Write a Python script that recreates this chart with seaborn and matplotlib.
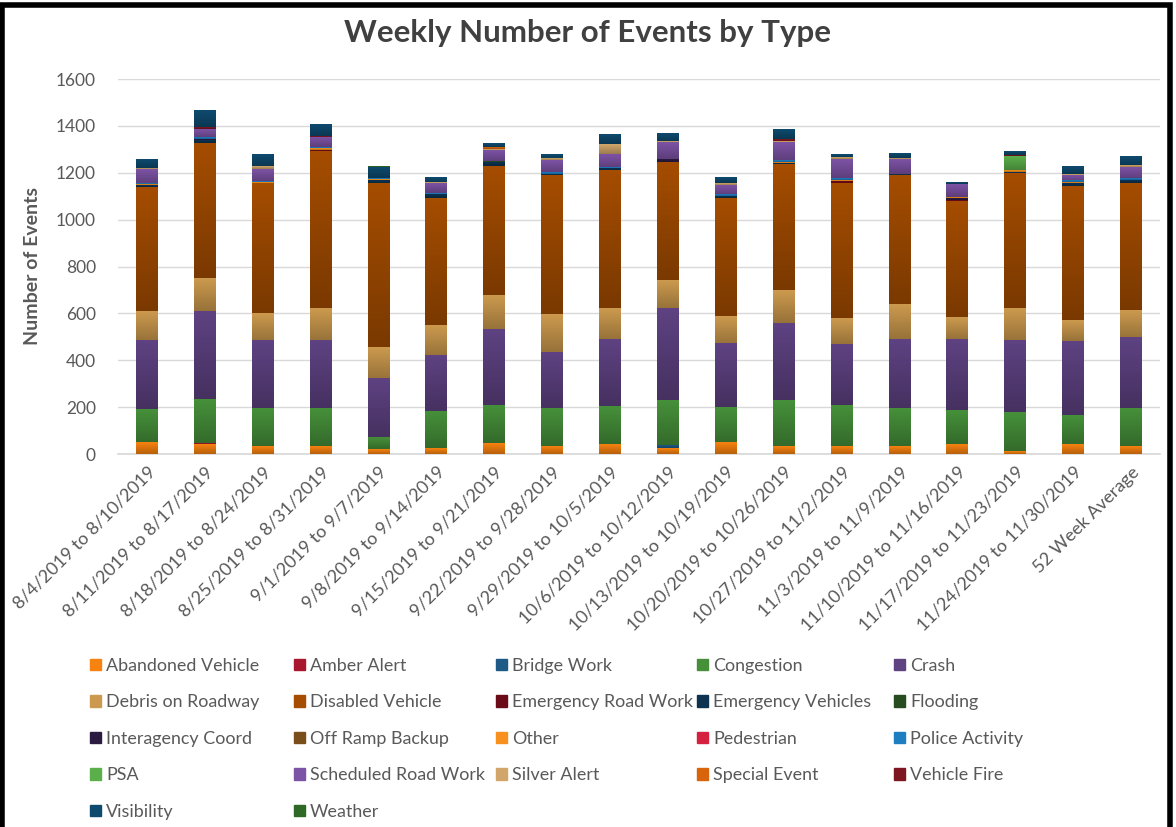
import matplotlib
matplotlib.use("Agg")
import matplotlib.pyplot as plt
import matplotlib.patches as mpatches
from matplotlib.colors import LinearSegmentedColormap, to_rgb
import numpy as np
import pandas as pd
import seaborn as sns

weeks = [
    "8/4/2019 to 8/10/2019", "8/11/2019 to 8/17/2019", "8/18/2019 to 8/24/2019",
    "8/25/2019 to 8/31/2019", "9/1/2019 to 9/7/2019", "9/8/2019 to 9/14/2019",
    "9/15/2019 to 9/21/2019", "9/22/2019 to 9/28/2019", "9/29/2019 to 10/5/2019",
    "10/6/2019 to 10/12/2019", "10/13/2019 to 10/19/2019", "10/20/2019 to 10/26/2019",
    "10/27/2019 to 11/2/2019", "11/3/2019 to 11/9/2019", "11/10/2019 to 11/16/2019",
    "11/17/2019 to 11/23/2019", "11/24/2019 to 11/30/2019", "52 Week Average",
]

# event counts per week (stack order = legend order)
abandoned_vehicle = [48, 41, 34, 34, 20, 24, 46, 34, 41, 24, 48, 31, 34, 34, 41, 10, 41, 34]
amber_alert = [0, 2, 0, 0, 0, 0, 0, 0, 0, 0, 0, 0, 0, 0, 0, 0, 0, 0]
bridge_work = [0, 0, 0, 0, 0, 0, 0, 0, 0, 10, 0, 3, 0, 0, 0, 0, 0, 0]
congestion = [144, 192, 158, 158, 47, 154, 160, 158, 158, 193, 151, 193, 172, 158, 144, 168, 123, 158]
crash = [291, 374, 291, 291, 252, 242, 326, 242, 290, 394, 270, 330, 263, 297, 304, 305, 319, 304]
debris_on_roadway = [124, 138, 117, 138, 136, 130, 143, 159, 132, 118, 117, 140, 110, 147, 90, 138, 89, 118]
disabled_vehicle = [533, 580, 552, 669, 697, 541, 554, 595, 586, 504, 505, 539, 573, 552, 498, 574, 568, 541]
emergency_road_work = [0, 0, 0, 7, 0, 0, 0, 0, 0, 0, 0, 0, 9, 0, 8, 0, 0, 0]
emergency_vehicles = [5, 12, 0, 0, 13, 13, 13, 5, 9, 0, 8, 4, 4, 7, 0, 7, 15, 12]
flooding = [0, 0, 0, 0, 0, 0, 5, 0, 0, 0, 0, 0, 0, 0, 0, 0, 0, 0]
interagency_coord = [2, 3, 0, 0, 0, 0, 0, 0, 0, 14, 0, 0, 0, 0, 6, 0, 0, 0]
off_ramp_backup = [0] * 18
other = [4, 0, 5, 5, 5, 3, 0, 0, 0, 0, 0, 4, 3, 0, 4, 5, 4, 0]
pedestrian = [0] * 18
police_activity = [3, 8, 5, 6, 7, 5, 0, 6, 6, 0, 7, 6, 6, 0, 0, 0, 5, 5]
psa = [0, 0, 0, 0, 0, 0, 0, 0, 0, 0, 0, 0, 0, 0, 0, 61, 0, 0]
scheduled_road_work = [60, 37, 55, 39, 0, 39, 47, 55, 57, 71, 42, 78, 84, 62, 53, 0, 24, 51]
silver_alert = [3, 0, 9, 0, 0, 5, 6, 5, 39, 5, 7, 5, 6, 4, 4, 4, 5, 7]
special_event = [0, 0, 0, 0, 0, 0, 8, 0, 0, 0, 0, 0, 0, 0, 0, 0, 0, 0]
vehicle_fire = [3, 5, 0, 5, 0, 0, 0, 0, 4, 0, 0, 9, 0, 0, 0, 3, 0, 0]
visibility = [37, 73, 53, 52, 45, 24, 17, 20, 39, 35, 25, 40, 15, 18, 7, 15, 30, 41]
weather = [0, 0, 0, 0, 7, 0, 0, 0, 0, 0, 0, 0, 0, 0, 0, 0, 0, 0]

series = [
    ("Abandoned Vehicle", abandoned_vehicle, "#F7820F"),
    ("Amber Alert", amber_alert, "#A8172E"),
    ("Bridge Work", bridge_work, "#1D5A86"),
    ("Congestion", congestion, "#46903A"),
    ("Crash", crash, "#5E4282"),
    ("Debris on Roadway", debris_on_roadway, "#CC9A4E"),
    ("Disabled Vehicle", disabled_vehicle, "#A54D00"),
    ("Emergency Road Work", emergency_road_work, "#6A0B17"),
    ("Emergency Vehicles", emergency_vehicles, "#0D3350"),
    ("Flooding", flooding, "#264C1F"),
    ("Interagency Coord", interagency_coord, "#2B1B40"),
    ("Off Ramp Backup", off_ramp_backup, "#7A4E1A"),
    ("Other", other, "#F7901E"),
    ("Pedestrian", pedestrian, "#D6203F"),
    ("Police Activity", police_activity, "#1E7EC0"),
    ("PSA", psa, "#5BAF4A"),
    ("Scheduled Road Work", scheduled_road_work, "#7D53A5"),
    ("Silver Alert", silver_alert, "#D2A66A"),
    ("Special Event", special_event, "#D8650B"),
    ("Vehicle Fire", vehicle_fire, "#7D1620"),
    ("Visibility", visibility, "#0E4A6E"),
    ("Weather", weather, "#2E6A26"),
]

sns.set_theme(style="white")
plt.rcParams["font.family"] = ["Lato", "DejaVu Sans"]
TEXT = "#595959"

fig = plt.figure(figsize=(11.76, 8.27), dpi=100)
ax = fig.add_axes([118 / 1176, 1 - 454 / 827, 1042 / 1176, 375 / 827])

# stacked bars: draw cumulative totals, tallest first, so each layer shows its own segment
cum = np.cumsum([np.array(v, dtype=float) for _, v, _ in series], axis=0)
for i in range(len(series) - 1, -1, -1):
    df = pd.DataFrame({"week": weeks, "total": cum[i]})
    sns.barplot(data=df, x="week", y="total", color=series[i][2], width=0.38,
                saturation=1, ax=ax, linewidth=0)

# Excel-style vertical gradient on each segment (darker at the bottom)
grad = np.linspace(0, 1, 64).reshape(-1, 1)
for k, container in enumerate(ax.containers):
    i = len(series) - 1 - k
    base = np.array(to_rgb(series[i][2]))
    cmap = LinearSegmentedColormap.from_list("g", [base * 0.74, base])
    for j, rect in enumerate(container.patches):
        lo = cum[i - 1][j] if i > 0 else 0.0
        hi = cum[i][j]
        if hi - lo <= 0:
            continue
        x0 = rect.get_x()
        ax.imshow(grad, extent=(x0, x0 + rect.get_width(), lo, hi), origin="lower",
                  cmap=cmap, aspect="auto", interpolation="bilinear", zorder=3)

ax.set_ylim(0, 1600)
ax.set_yticks(range(0, 1601, 200))
ax.set_xlim(-0.5, len(weeks) - 0.5)
ax.yaxis.grid(True, color="#D9D9D9", linewidth=1)
ax.set_axisbelow(True)
for side in ["top", "right", "left"]:
    ax.spines[side].set_visible(False)
ax.spines["bottom"].set_color("#D9D9D9")
ax.tick_params(axis="both", length=0, colors=TEXT, labelsize=12.5)
ax.tick_params(axis="y", pad=16)
ax.set_xlabel("")
ax.set_ylabel("")
plt.setp(ax.get_xticklabels(), rotation=45, ha="right", rotation_mode="anchor", fontsize=13)
ax.tick_params(axis="x", pad=7)

fig.text(0.5, 1 - 33 / 827, "Weekly Number of Events by Type", ha="center", va="center",
         fontsize=22.5, fontweight="bold", color="#404040")
fig.text(33 / 1176, 1 - 266 / 827, "Number of Events", ha="center", va="center",
         rotation=90, fontsize=14, fontweight="bold", color=TEXT)

# legend reads row-wise with equal-width columns, so place one legend per column
ncol = 5
col_x = [90, 294, 496, 697, 894]
handles = [mpatches.Patch(color=c, label=n) for n, _, c in series]
for c in range(ncol):
    fig.legend(handles=handles[c::ncol], loc="upper left",
               bbox_to_anchor=(col_x[c] / 1176, 1 - 658 / 827), frameon=False,
               fontsize=12.9, labelcolor=TEXT, handlelength=0.6, handleheight=0.6,
               handletextpad=0.3, labelspacing=1.14, borderpad=0, borderaxespad=0)

fig.patches.append(mpatches.Rectangle((0.002, -0.02), 0.993, 1.014, transform=fig.transFigure,
                                      fill=False, edgecolor="black", linewidth=4))

fig.savefig("out.png", dpi=100)
